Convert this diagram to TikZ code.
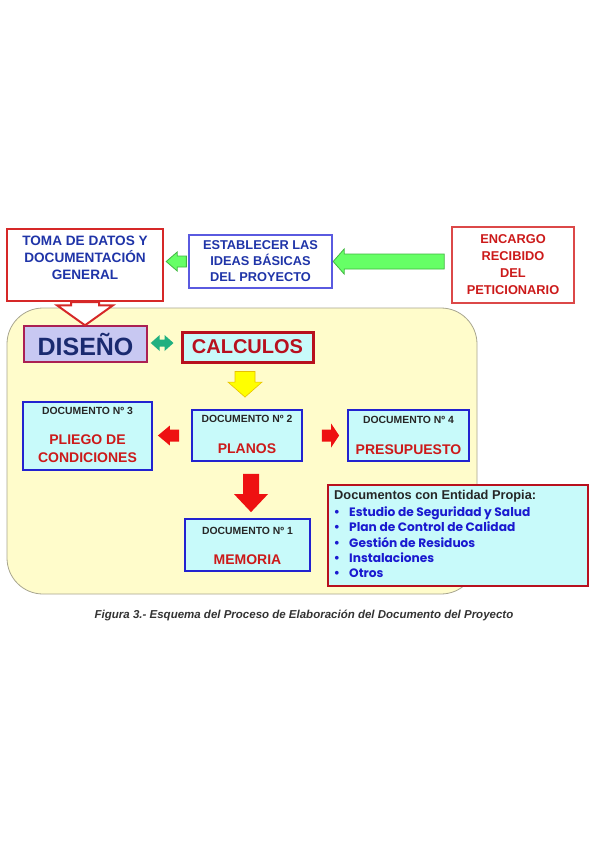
\documentclass[tikz,border=0pt]{standalone}
\usepackage{fontspec}
\setmainfont{Liberation Sans}
\newfontfamily\comicf{Poppins}
\usetikzlibrary{calc}
\definecolor{tblue}{HTML}{1F34A8}
\definecolor{bblue}{HTML}{5A5AE0}
\definecolor{tred}{HTML}{CC1A1A}
\definecolor{bred}{HTML}{D62828}
\definecolor{regfill}{HTML}{FFFCCB}
\definecolor{regdraw}{HTML}{A8A690}
\definecolor{lav}{HTML}{C8C8F2}
\definecolor{navy}{HTML}{1A2A70}
\definecolor{cyanf}{HTML}{C8FAFA}
\definecolor{dblue}{HTML}{2222D0}
\definecolor{dred}{HTML}{B8101E}
\definecolor{gfill}{HTML}{66FF66}
\definecolor{gdraw}{HTML}{40B840}
\definecolor{teal}{HTML}{20B080}
\definecolor{yfill}{HTML}{FFFF00}
\definecolor{ydraw}{HTML}{E8C000}
\definecolor{rfill}{HTML}{EE1111}
\definecolor{itemblue}{HTML}{1A1AD0}
\newcommand\blockarrow[7]{%
  \coordinate (#2h) at ($(#4)!#7pt!(#3)$);
  \path[#1] ($(#3)!#5pt!90:(#4)$) -- ($(#2h)!#5pt!-90:(#3)$) -- ($(#2h)!#6pt!-90:(#3)$) -- (#4) -- ($(#2h)!#6pt!90:(#3)$) -- ($(#2h)!#5pt!90:(#3)$) -- ($(#3)!#5pt!-90:(#4)$) -- cycle;
}
\begin{document}
\begin{tikzpicture}[x=1pt,y=-1pt,
  box/.style={inner sep=0pt,align=center},
  topred/.style={box,draw=bred,line width=2.4pt,fill=white},
  docbox/.style={box,draw=dblue,line width=1.8pt,fill=cyanf},
  doctitle/.style={inner sep=0pt,text=black!85,font=\fontsize{10.4}{12}\selectfont\bfseries},
  docname/.style={inner sep=0pt,align=center,text=tred,font=\fontsize{14}{18}\selectfont\bfseries},
  item/.style={inner sep=0pt,anchor=base west,text=itemblue,font=\comicf\fontsize{12.2}{14}\selectfont\bfseries},
  bul/.style={inner sep=0pt,anchor=base,text=itemblue,font=\fontsize{13}{14}\selectfont\bfseries}
]
\useasboundingbox[fill=white] (0,0) rectangle (599,848);

% region
\node[draw=regdraw,fill=regfill,line width=0.8pt,rounded corners=36pt,minimum width=470pt,minimum height=286pt,inner sep=0pt] (region) at (242,451) {};

% top row
\node[topred,minimum width=156pt,minimum height=72pt] (toma) at (85,265) {};
\node[inner sep=0pt,align=center,text=tblue,font=\fontsize{13.6}{17}\selectfont\bfseries] (tomat) at (85,257.5) {TOMA DE DATOS Y\\DOCUMENTACIÓN\\GENERAL};
\node[box,draw=bblue,line width=1.3pt,fill=white,minimum width=143pt,minimum height=53pt,text=tblue,font=\fontsize{12.8}{16}\selectfont\bfseries] (est) at (260.5,261.5) {ESTABLECER LAS\\IDEAS BÁSICAS\\DEL PROYECTO};
\node[box,draw=bred!85,line width=1.6pt,fill=white,minimum width=122pt,minimum height=76pt,text=tred,font=\fontsize{12.8}{17}\selectfont\bfseries] (enc) at (513,265) {ENCARGO\\RECIBIDO\\DEL\\PETICIONARIO};

% middle
\node[box,draw=bred!80!blue,line width=1.4pt,fill=lav,minimum width=123pt,minimum height=36pt,text=navy,font=\fontsize{25}{28}\selectfont\bfseries] (dis) at (85.5,344) {DISEÑO};
\node[box,draw=dred,line width=3pt,fill=cyanf,minimum width=131pt,minimum height=30pt,text=dred,font=\fontsize{20}{24}\selectfont\bfseries] (cal) at (247.5,347) {CALCULOS};

\node[docbox,minimum width=129pt,minimum height=68pt] (doc3) at (87.5,436) {};
\node[doctitle] (doc3t) at (87.5,411) {DOCUMENTO Nº 3};
\node[docname] (doc3n) at (87.5,449) {PLIEGO DE\\CONDICIONES};

\node[docbox,minimum width=110pt,minimum height=51pt] (doc2) at (247,435.5) {};
\node[doctitle] (doc2t) at (247,419) {DOCUMENTO Nº 2};
\node[docname] (doc2n) at (247,449) {PLANOS};

\node[docbox,minimum width=121pt,minimum height=51pt] (doc4) at (408.5,435.5) {};
\node[doctitle] (doc4t) at (408.5,420) {DOCUMENTO Nº 4};
\node[docname] (doc4n) at (408.5,450) {PRESUPUESTO};

\node[docbox,minimum width=125pt,minimum height=52pt] (doc1) at (247.5,545) {};
\node[doctitle] (doc1t) at (247.5,531) {DOCUMENTO Nº 1};
\node[docname] (doc1n) at (247.5,560) {MEMORIA};

% documentos box
\node[box,draw=dred,line width=2.4pt,fill=cyanf,minimum width=260pt,minimum height=101pt] (docs) at (458,535.5) {};
\node[inner sep=0pt,anchor=west,text=black!85,font=\fontsize{12.8}{14}\selectfont\bfseries] (docst) at (334,496) {Documentos con Entidad Propia:};
\foreach \y/\t [count=\i] in {516/Estudio de Seguridad y Salud,531/Plan de Control de Calidad,547/Gestión de Residuos,562/Instalaciones,577/Otros}{
  \node[bul] (b\i) at (337,\y) {•};
  \node[item] (it\i) at (349,\y) {\t};
}

% arrows
\coordinate (g1s) at ($(enc.west |- est.east)+(-7,0)$);
\coordinate (g1e) at ($(est.east)+(0.5,0)$);
\blockarrow{fill=gfill,draw=gdraw,line width=0.8pt}{g1}{g1s}{g1e}{7.5}{12.5}{11}
\coordinate (g2s) at ($(est.west)+(-2,0)$);
\coordinate (g2e) at ($(toma.east |- est.west)+(2,0)$);
\blockarrow{fill=gfill,draw=gdraw,line width=0.8pt}{g2}{g2s}{g2e}{5.5}{9.5}{11}
\coordinate (tas) at (toma.south);
\coordinate (tae) at (toma.south |- dis.north);
\blockarrow{fill=white,draw=bred,line width=2pt,line join=miter}{ta}{tas}{tae}{14}{28}{20}
\coordinate (dm) at ($(dis.east)!0.5!(cal.west)+(0,-2.5)$);
\coordinate (d1) at ($(dis.east |- dm)+(3,0)$);
\coordinate (d2) at ($(cal.west |- dm)+(-7,0)$);
\blockarrow{fill=teal}{da}{dm}{d1}{3.5}{8}{9}
\blockarrow{fill=teal}{db}{dm}{d2}{3.5}{8}{9}
\coordinate (ys) at ($(cal.south)+(-2.5,8)$);
\coordinate (ye) at ($(doc2.north)+(-2,-12)$);
\blockarrow{fill=yfill,draw=ydraw,line width=0.6pt}{ya}{ys}{ye}{10}{17}{15}
\coordinate (r1s) at ($(doc2.west)+(-12,0)$);
\coordinate (r1e) at ($(doc3.east |- doc2.west)+(5,0)$);
\blockarrow{fill=rfill}{r1}{r1s}{r1e}{6}{10}{12}
\coordinate (r2s) at ($(doc2.east)+(19,0)$);
\coordinate (r2e) at ($(doc4.west)+(-8,0)$);
\blockarrow{fill=rfill}{r2}{r2s}{r2e}{6}{12}{8}
\coordinate (r3s) at ($(doc2.south)+(4,12)$);
\coordinate (r3e) at ($(doc1.north)+(3.5,-6)$);
\blockarrow{fill=rfill}{r3}{r3s}{r3e}{8}{17}{18}

% caption
\node[inner sep=0pt,text=black!80,font=\fontsize{11.5}{13}\selectfont\bfseries\itshape] (cap) at (304,615) {Figura 3.- Esquema del Proceso de Elaboración del Documento del Proyecto};
\end{tikzpicture}
\end{document}
